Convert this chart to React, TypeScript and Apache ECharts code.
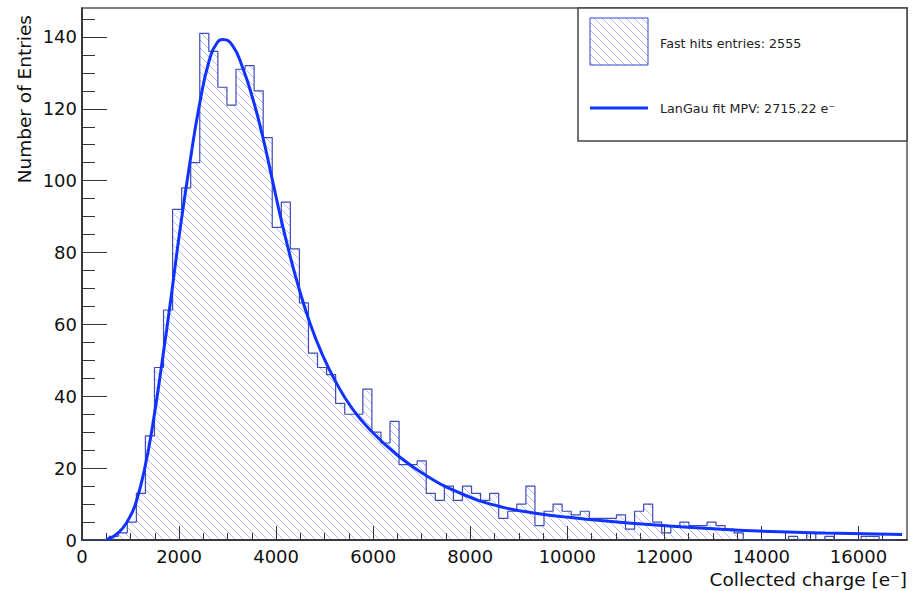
import React, { useEffect, useRef } from "react";
import * as echarts from "echarts";

// ---- Histogram definition (90 bins from 0 to 16800) ----
const HIST_LOW = 0;
const HIST_HIGH = 16800;
const COUNTS = [
  0, 0, 0, 1, 2, 5, 13, 29, 48, 64,
  92, 98, 105, 141, 136, 126, 121, 131, 132, 125,
  112, 87, 94, 81, 66, 52, 48, 46, 38, 35,
  35, 42, 30, 27, 33, 21, 21, 22, 13, 11,
  15, 11, 15, 13, 11, 13, 6, 8, 10, 15,
  4, 8, 10, 8, 7, 8, 6, 6, 6, 7,
  3, 8, 10, 5, 2, 4, 5, 4, 4, 5,
  4, 3, 2, 0, 0, 0, 0, 0, 1, 0,
  2, 0, 1, 0, 0, 0, 1, 1, 0, 0,
];

// ---- LanGau fit curve ----
const FIT_X = [
  500, 650, 840, 1000, 1115, 1286, 1457, 1650, 1835, 2006,
  2212, 2418, 2623, 2795, 2900, 3103, 3309, 3515, 3720, 3926,
  4098, 4270, 4440, 4681, 4955, 5230, 5572, 5984, 6465, 7082,
  7835, 8590, 9276, 10031, 10854, 11883, 12912, 13940, 15313, 16900,
];
const FIT_Y = [
  0.2, 1.0, 3.3, 6.8, 10.5, 19.5, 32, 49.5, 67.5, 85,
  104, 121, 133.5, 138.6, 139.3, 137.6, 131.5, 123, 112.5, 100,
  89.5, 80, 71.5, 61, 51.5, 44, 36.5, 30, 24, 18,
  12.8, 9.4, 7.6, 6.3, 5.2, 4.1, 3.2, 2.5, 1.95, 1.55,
];

// ---- Axes ----
const X_MAX = 17000;
const Y_MAX = 148.05;
const X_MAJOR = [0, 2000, 4000, 6000, 8000, 10000, 12000, 14000, 16000];
const X_MINOR = [
  500, 1000, 1500, 2500, 3000, 3500, 4500, 5000, 5500, 6500, 7000, 7500,
  8500, 9000, 9500, 10500, 11000, 11500, 12500, 13000, 13500, 14500, 15000,
  15500, 16500,
];
const Y_MAJOR = [0, 20, 40, 60, 80, 100, 120, 140];
const Y_MINOR = [
  5, 10, 15, 25, 30, 35, 45, 50, 55, 65, 70, 75, 85, 90, 95, 105, 110, 115,
  125, 130, 135, 145,
];

const LEGEND_HIST = "Fast hits entries: 2555";
const LEGEND_FIT = "LanGau fit MPV: 2715.22 e\u207B";
const X_TITLE = "Collected charge [e\u207B]";
const Y_TITLE = "Number of Entries";

const FONT = "DejaVu Sans";

function hatchPattern() {
  const svg =
    "<svg xmlns='http://www.w3.org/2000/svg' width='8' height='8'>" +
    "<path d='M0,0 L8,8 M-1,7 L1,9 M7,-1 L9,1' stroke='rgb(80,80,250)' stroke-opacity='0.4' stroke-width='1'/>" +
    "</svg>";
  return {
    image: "data:image/svg+xml;charset=utf-8," + encodeURIComponent(svg),
    repeat: "repeat",
    imageWidth: 8,
    imageHeight: 8,
  } as any;
}

export default function App() {
  const ref = useRef<HTMLDivElement>(null);

  useEffect(() => {
    if (!ref.current) return;
    const chart = echarts.init(ref.current, undefined, { renderer: "svg" });

    const w = (HIST_HIGH - HIST_LOW) / COUNTS.length;
    const stepData: number[][] = [[HIST_LOW, 0]];
    COUNTS.forEach((c, k) => stepData.push([HIST_LOW + k * w, c]));
    stepData.push([HIST_HIGH, 0]);

    const fitData = FIT_X.map((x, i) => [x, FIT_Y[i]]);

    const axisColor = "#222";
    const labelStyle = {
      fontFamily: FONT,
      fontSize: 18,
      color: "#111",
    };

    const option: any = {
      animation: false,
      backgroundColor: "#fff",
      grid: {
        left: 82,
        right: 14,
        top: 8,
        bottom: 51,
        show: true,
        borderColor: "#555",
        borderWidth: 1.5,
        backgroundColor: "transparent",
      },
      xAxis: [
        {
          type: "value",
          min: 0,
          max: X_MAX,
          position: "bottom",
          axisLine: { show: true, onZero: false, lineStyle: { color: axisColor, width: 1.5 } },
          axisTick: {
            show: true,
            inside: true,
            length: 14,
            customValues: X_MAJOR,
            lineStyle: { color: "#333", width: 1 },
          },
          axisLabel: {
            ...labelStyle,
            customValues: X_MAJOR,
            margin: 7,
            formatter: (v: number) => String(v),
          },
          splitLine: { show: false },
        },
        {
          type: "value",
          min: 0,
          max: X_MAX,
          position: "bottom",
          axisLine: { show: false },
          axisTick: {
            show: true,
            inside: true,
            length: 7,
            customValues: X_MINOR,
            lineStyle: { color: "#333", width: 1 },
          },
          axisLabel: { show: false },
          splitLine: { show: false },
        },
      ],
      yAxis: [
        {
          type: "value",
          min: 0,
          max: Y_MAX,
          position: "left",
          axisLine: { show: true, onZero: false, lineStyle: { color: axisColor, width: 1.5 } },
          axisTick: {
            show: true,
            inside: true,
            length: 25,
            customValues: Y_MAJOR,
            lineStyle: { color: "#333", width: 1 },
          },
          axisLabel: {
            ...labelStyle,
            customValues: Y_MAJOR,
            margin: 5,
            formatter: (v: number) => String(v),
          },
          splitLine: { show: false },
        },
        {
          type: "value",
          min: 0,
          max: Y_MAX,
          position: "left",
          axisLine: { show: false },
          axisTick: {
            show: true,
            inside: true,
            length: 13,
            customValues: Y_MINOR,
            lineStyle: { color: "#333", width: 1 },
          },
          axisLabel: { show: false },
          splitLine: { show: false },
        },
      ],
      series: [
        {
          type: "line",
          name: LEGEND_HIST,
          data: stepData,
          step: "end",
          symbol: "none",
          xAxisIndex: 0,
          yAxisIndex: 0,
          lineStyle: { color: "#3d4bb5", width: 1.2 },
          areaStyle: { color: hatchPattern(), opacity: 1 },
          z: 2,
        },
        {
          type: "line",
          name: LEGEND_FIT,
          data: fitData,
          smooth: 0.5,
          symbol: "none",
          xAxisIndex: 0,
          yAxisIndex: 0,
          lineStyle: { color: "#1133ff", width: 3 },
          z: 3,
        },
      ],
      graphic: [
        {
          type: "rect",
          z: 100,
          shape: { x: 578, y: 8, width: 329, height: 133 },
          style: { fill: "#fff", stroke: "#444", lineWidth: 1.5 },
        },
        {
          type: "rect",
          z: 101,
          shape: { x: 590, y: 18, width: 58, height: 47 },
          style: { fill: hatchPattern(), stroke: "#3344cc", lineWidth: 1 },
        },
        {
          type: "line",
          z: 101,
          shape: { x1: 590, y1: 108, x2: 648, y2: 108 },
          style: { stroke: "#1133ff", lineWidth: 3 },
        },
        {
          type: "text",
          z: 101,
          x: 660,
          y: 43,
          style: {
            text: LEGEND_HIST,
            fontFamily: FONT,
            fontSize: 12.7,
            fill: "#222",
            verticalAlign: "middle",
          },
        },
        {
          type: "text",
          z: 101,
          x: 660,
          y: 108,
          style: {
            text: LEGEND_FIT,
            fontFamily: FONT,
            fontSize: 12.7,
            fill: "#222",
            verticalAlign: "middle",
          },
        },
        {
          type: "text",
          z: 101,
          x: 907,
          y: 579,
          style: {
            text: X_TITLE,
            fontFamily: FONT,
            fontSize: 18.5,
            fill: "#111",
            align: "right",
            verticalAlign: "middle",
          },
        },
        {
          type: "text",
          z: 101,
          x: 24,
          y: 15,
          rotation: Math.PI / 2,
          style: {
            text: Y_TITLE,
            fontFamily: FONT,
            fontSize: 18.5,
            fill: "#111",
            align: "right",
            verticalAlign: "middle",
          },
        },
      ],
    };

    chart.setOption(option);
    return () => chart.dispose();
  }, []);

  return (
    <div
      ref={ref}
      style={{ position: "fixed", left: 0, top: 0, width: 921, height: 591, background: "#fff" }}
    />
  );
}
